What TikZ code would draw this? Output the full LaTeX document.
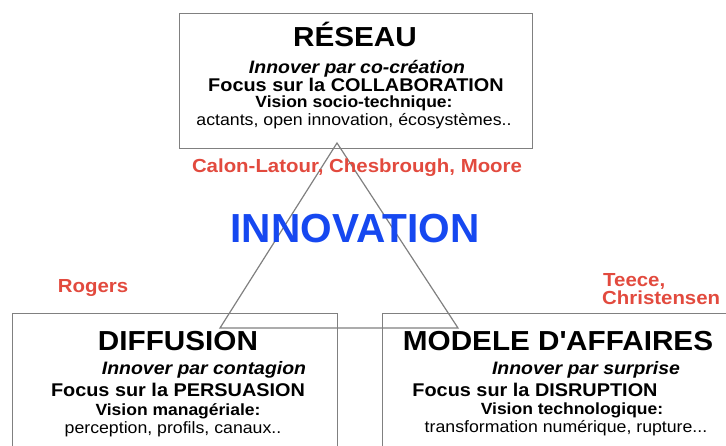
\documentclass[tikz,border=0pt]{standalone}
\usepackage{fontspec}
\setmainfont{Liberation Sans}[FakeStretch=1.08]
\newfontfamily\plainsans{Liberation Sans}
\usepackage{tikz}

\definecolor{refred}{RGB}{226,74,62}
\definecolor{refblue}{RGB}{22,72,240}
\definecolor{linegray}{RGB}{128,128,128}

\tikzset{
  box/.style={draw=linegray, line width=1pt, anchor=north west, inner sep=0pt},
  boxtitle/.style={anchor=base, inner sep=0pt, font=\bfseries\fontsize{27.5}{30}\selectfont},
  motto/.style={anchor=base, inner sep=0pt, font=\bfseries\itshape\fontsize{18}{20}\selectfont},
  focus/.style={anchor=base, inner sep=0pt, font=\bfseries\fontsize{18.4}{20}\selectfont},
  vision/.style={anchor=base, inner sep=0pt, font=\bfseries\fontsize{16.2}{18}\selectfont},
  detail/.style={anchor=base, inner sep=0pt, font=\fontsize{16.4}{18}\selectfont},
  author/.style={anchor=base, inner sep=0pt, color=refred, font=\bfseries\fontsize{18.9}{21}\selectfont},
}

\begin{document}
\begin{tikzpicture}[x=1pt, y=-1pt]
      \useasboundingbox (0,0) rectangle (726,446);
      \clip (0,0) rectangle (726,446);

      % triangle
      \coordinate (apex) at (337,143);
      \coordinate (leftc) at (220,328);
      \coordinate (rightc) at (458,328);
      \draw[line width=1.2pt, color=linegray] (apex) -- (leftc) -- (rightc) -- cycle;

      % boxes
      \node[box, minimum width=353pt, minimum height=135pt] (reseau) at (179,13) {};
      \node[box, minimum width=325pt, minimum height=150pt] (diffusion) at (12,313) {};
      \node[box, minimum width=360pt, minimum height=150pt] (modele) at (382,313) {};

      % top box
      \node[boxtitle] (reseautitle) at (355,47) {RÉSEAU};
      \node[motto] (reseaumotto) at (357,74) {Innover par co-création};
      \node[focus] (reseaufocus) at (356,92) {Focus sur la COLLABORATION};
      \node[vision] (reseauvision) at (354,108) {Vision socio-technique:};
      \node[detail] (reseaudetail) at (354,126) {actants, open innovation, écosystèmes..};

      % bottom left box
      \node[boxtitle] (diffusiontitle) at (178,351) {DIFFUSION};
      \node[motto] (diffusionmotto) at (204,375) {Innover par contagion};
      \node[focus] (diffusionfocus) at (178,397) {Focus sur la PERSUASION};
      \node[vision] (diffusionvision) at (178,415) {Vision managériale:};
      \node[detail] (diffusiondetail) at (173,433) {perception, profils, canaux..};

      % bottom right box
      \node[boxtitle] (modeletitle) at (558,351) {MODELE D\textquotesingle AFFAIRES};
      \node[motto] (modelemotto) at (586,375) {Innover par surprise};
      \node[focus] (modelefocus) at (535,396) {Focus sur la DISRUPTION};
      \node[vision] (modelevision) at (572,414) {Vision technologique:};
      \node[detail] (modeledetail) at (566,432) {transformation numérique, rupture...};

      % authors
      \node[author] (calon) at (357,173) {Calon-Latour, Chesbrough, Moore};
      \node[author] (rogers) at (93,293) {Rogers};
      \node[author, anchor=base west] (teece) at (603,287) {Teece,};
      \node[author, anchor=base west] (christensen) at (602,305) {Christensen};

      \node[anchor=base, inner sep=0pt, color=refblue, font=\plainsans\bfseries\fontsize{40.6}{44}\selectfont] (innovation) at (355,243) {INNOVATION};
    \end{tikzpicture}
\end{document}
